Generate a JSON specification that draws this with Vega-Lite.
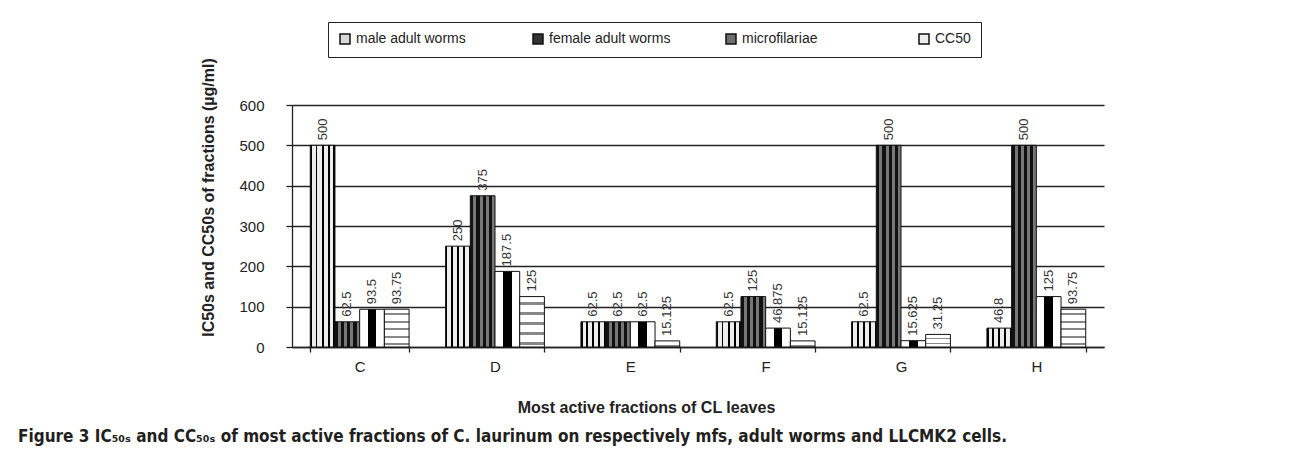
{
  "$schema": "https://vega.github.io/schema/vega-lite/v6.json",
  "width": 812,
  "height": 242,
  "autosize": {"type": "none"},
  "padding": {"left": 292, "top": 105, "right": 186, "bottom": 115},
  "background": "white",
  "config": {
    "font": "Liberation Sans",
    "view": {"stroke": null}
  },
  "title": {
    "text": "Figure 3 IC₅₀ₛ and CC₅₀ₛ of most active fractions of C. laurinum on respectively mfs, adult worms and LLCMK2 cells.",
    "orient": "bottom",
    "anchor": "start",
    "frame": "group",
    "dx": -274,
    "offset": 14,
    "font": "Liberation Sans Narrow, DejaVu Sans Condensed, sans-serif",
    "fontSize": 17,
    "fontWeight": "bold",
    "color": "#231f20"
  },
  "data": {
    "values": [
      {"fraction": "C", "series": "male adult worms", "value": 500},
      {"fraction": "C", "series": "female adult worms", "value": 62.5},
      {"fraction": "C", "series": "microfilariae", "value": 93.5},
      {"fraction": "C", "series": "CC50", "value": 93.75},
      {"fraction": "D", "series": "male adult worms", "value": 250},
      {"fraction": "D", "series": "female adult worms", "value": 375},
      {"fraction": "D", "series": "microfilariae", "value": 187.5},
      {"fraction": "D", "series": "CC50", "value": 125},
      {"fraction": "E", "series": "male adult worms", "value": 62.5},
      {"fraction": "E", "series": "female adult worms", "value": 62.5},
      {"fraction": "E", "series": "microfilariae", "value": 62.5},
      {"fraction": "E", "series": "CC50", "value": 15.125},
      {"fraction": "F", "series": "male adult worms", "value": 62.5},
      {"fraction": "F", "series": "female adult worms", "value": 125},
      {"fraction": "F", "series": "microfilariae", "value": 46.875},
      {"fraction": "F", "series": "CC50", "value": 15.125},
      {"fraction": "G", "series": "male adult worms", "value": 62.5},
      {"fraction": "G", "series": "female adult worms", "value": 500},
      {"fraction": "G", "series": "microfilariae", "value": 15.625},
      {"fraction": "G", "series": "CC50", "value": 31.25},
      {"fraction": "H", "series": "male adult worms", "value": 46.8},
      {"fraction": "H", "series": "female adult worms", "value": 500},
      {"fraction": "H", "series": "microfilariae", "value": 125},
      {"fraction": "H", "series": "CC50", "value": 93.75}
    ]
  },
  "encoding": {
    "x": {
      "field": "fraction",
      "type": "nominal",
      "scale": {"paddingInner": 0.27, "paddingOuter": 0.135},
      "axis": {
        "title": "Most active fractions of CL leaves",
        "titleFontSize": 16,
        "titleFontWeight": "bold",
        "titleColor": "#222",
        "titleX": 354,
        "titlePadding": 25,
        "labelAngle": 0,
        "labelFontSize": 15,
        "labelColor": "#222",
        "labelPadding": 7,
        "tickBand": "extent",
        "tickSize": 5,
        "tickColor": "#222",
        "domainColor": "#222",
        "domainWidth": 1.3,
        "tickWidth": 1.3,
        "grid": false
      }
    },
    "xOffset": {
      "field": "series",
      "type": "nominal",
      "scale": {
        "domain": ["male adult worms", "female adult worms", "microfilariae", "CC50"],
        "paddingInner": 0,
        "paddingOuter": 0
      }
    },
    "y": {
      "field": "value",
      "type": "quantitative",
      "scale": {"domain": [0, 600], "nice": false},
      "axis": {
        "title": "IC50s and CC50s of fractions (µg/ml)",
        "titleFontSize": 16,
        "titleFontWeight": "bold",
        "titleColor": "#222",
        "titleY": 92,
        "titlePadding": 22,
        "values": [0, 100, 200, 300, 400, 500, 600],
        "labelFontSize": 15,
        "labelColor": "#222",
        "labelPadding": 22,
        "tickSize": 6,
        "tickColor": "#222",
        "tickWidth": 1.3,
        "domainColor": "#222",
        "domainWidth": 1.3,
        "grid": true,
        "gridColor": "#222",
        "gridWidth": 1.3
      }
    }
  },
  "layer": [
    {
      "mark": {"type": "bar", "stroke": "#111", "strokeWidth": 1},
      "encoding": {
        "fill": {
          "condition": [
            {"test": "datum.series === 'male adult worms'", "value":
              {"gradient": "linear", "x1": 0, "y1": 0, "x2": 1, "y2": 0, "stops": [
                {"offset": 0, "color": "#000"}, {"offset": 0.07, "color": "#000"},
                {"offset": 0.07, "color": "#eee"}, {"offset": 0.22, "color": "#eee"},
                {"offset": 0.22, "color": "#000"}, {"offset": 0.29, "color": "#000"},
                {"offset": 0.29, "color": "#eee"}, {"offset": 0.46, "color": "#eee"},
                {"offset": 0.46, "color": "#000"}, {"offset": 0.54, "color": "#000"},
                {"offset": 0.54, "color": "#eee"}, {"offset": 0.71, "color": "#eee"},
                {"offset": 0.71, "color": "#000"}, {"offset": 0.78, "color": "#000"},
                {"offset": 0.78, "color": "#eee"}, {"offset": 0.93, "color": "#eee"},
                {"offset": 0.93, "color": "#000"}, {"offset": 1, "color": "#000"}
              ]}},
            {"test": "datum.series === 'female adult worms'", "value":
              {"gradient": "linear", "x1": 0, "y1": 0, "x2": 1, "y2": 0, "stops": [
                {"offset": 0, "color": "#111"}, {"offset": 0.125, "color": "#111"},
                {"offset": 0.125, "color": "#777"}, {"offset": 0.25, "color": "#777"},
                {"offset": 0.25, "color": "#111"}, {"offset": 0.375, "color": "#111"},
                {"offset": 0.375, "color": "#777"}, {"offset": 0.5, "color": "#777"},
                {"offset": 0.5, "color": "#111"}, {"offset": 0.625, "color": "#111"},
                {"offset": 0.625, "color": "#777"}, {"offset": 0.75, "color": "#777"},
                {"offset": 0.75, "color": "#111"}, {"offset": 0.875, "color": "#111"},
                {"offset": 0.875, "color": "#777"}, {"offset": 1, "color": "#777"}
              ]}},
            {"test": "datum.series === 'microfilariae'", "value":
              {"gradient": "linear", "x1": 0, "y1": 0, "x2": 1, "y2": 0, "stops": [
                {"offset": 0, "color": "#fff"}, {"offset": 0.33, "color": "#fff"},
                {"offset": 0.33, "color": "#000"}, {"offset": 0.67, "color": "#000"},
                {"offset": 0.67, "color": "#fff"}, {"offset": 1, "color": "#fff"}
              ]}}
          ],
          "value": {"gradient": "linear", "x1": 0, "y1": 0, "x2": 0, "y2": 1, "stops": [
                {"offset": 0, "color": "#fff"}, {"offset": 0.1, "color": "#fff"},
                {"offset": 0.1, "color": "#888"}, {"offset": 0.16, "color": "#888"},
                {"offset": 0.16, "color": "#fff"}, {"offset": 0.3, "color": "#fff"},
                {"offset": 0.3, "color": "#888"}, {"offset": 0.36, "color": "#888"},
                {"offset": 0.36, "color": "#fff"}, {"offset": 0.5, "color": "#fff"},
                {"offset": 0.5, "color": "#888"}, {"offset": 0.56, "color": "#888"},
                {"offset": 0.56, "color": "#fff"}, {"offset": 0.7, "color": "#fff"},
                {"offset": 0.7, "color": "#888"}, {"offset": 0.76, "color": "#888"},
                {"offset": 0.76, "color": "#fff"}, {"offset": 0.9, "color": "#fff"},
                {"offset": 0.9, "color": "#888"}, {"offset": 0.96, "color": "#888"},
                {"offset": 0.96, "color": "#fff"}, {"offset": 1, "color": "#fff"}
              ]}
        }
      }
    },
    {
      "mark": {"type": "point", "shape": "square", "filled": true, "opacity": 0},
      "encoding": {
        "fill": {
          "field": "series",
          "type": "nominal",
          "scale": {
            "domain": ["male adult worms", "female adult worms", "microfilariae", "CC50"],
            "range": ["#d8d8d8", "#333333", "#6e6e6e", "#eeeeee"]
          },
          "legend": {
            "title": null,
            "orient": "none",
            "direction": "horizontal",
            "legendX": 36,
            "legendY": -83,
            "gridAlign": "all",
            "symbolType": "square",
            "symbolSize": 100,
            "symbolOpacity": 1,
            "symbolStrokeColor": "#111",
            "labelFontSize": 14,
            "labelColor": "#222",
            "labelOffset": 4,
            "columnPadding": 52,
            "padding": 10,
            "strokeColor": "#222",
            "fillColor": "white"
          }
        }
      }
    },
    {
      "mark": {"type": "text", "angle": 270, "align": "left", "baseline": "middle", "dx": 5, "fontSize": 13, "color": "#333"},
      "encoding": {
        "text": {"field": "value", "type": "quantitative", "format": ".6~g"}
      }
    }
  ]
}
